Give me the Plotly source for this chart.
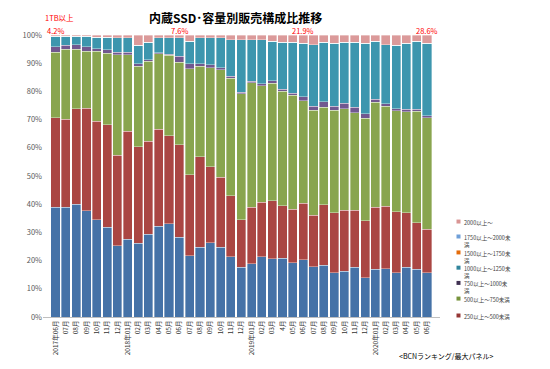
import plotly.graph_objects as go

months = ["2017年06月","2017年07月","2017年08月","2017年09月","2017年10月","2017年11月","2017年12月",
          "2018年01月","2018年02月","2018年03月","2018年04月","2018年05月","2018年06月","2018年07月",
          "2018年08月","2018年09月","2018年10月","2018年11月","2018年12月",
          "2019年01月","2019年02月","2019年03月","2019年04月","2019年05月","2019年06月","2019年07月",
          "2019年08月","2019年09月","2019年10月","2019年11月","2019年12月",
          "2020年01月","2020年02月","2020年03月","2020年04月","2020年05月","2020年06月"]
tick_labels = ["2017年06月","07月","08月","09月","10月","11月","12月",
               "2018年01月","02月","03月","04月","05月","06月","07月","08月","09月","10月","11月","12月",
               "2019年01月","02月","03月","4月","05月","06月","07月","08月","09月","10月","11月","12月",
               "2020年01月","02月","03月","04月","05月","06月"]

under_250 = [38.9,39.0,39.9,37.7,34.4,31.9,25.3,27.6,26.1,29.4,32.1,33.1,28.3,21.8,24.8,26.3,24.8,21.3,17.6,
             18.8,21.3,20.7,20.9,19.2,20.3,17.8,18.3,15.7,16.3,17.6,14.0,16.9,17.2,15.7,17.7,16.9,15.7]
s250_500 = [31.7,31.1,33.9,36.3,35.0,36.2,32.0,38.2,34.3,32.9,34.4,31.1,32.7,28.6,32.0,27.0,24.7,21.7,16.9,
            20.1,19.4,20.5,18.6,19.0,20.1,18.2,21.5,21.3,21.6,20.3,20.1,22.1,22.1,21.7,19.3,16.6,15.5]
s500_750 = [23.3,24.8,21.1,20.2,24.8,25.4,35.7,27.2,28.6,28.4,26.8,28.6,29.4,37.6,32.2,35.0,38.1,41.7,44.7,
            44.1,41.3,41.7,40.5,40.4,36.2,37.3,34.5,36.3,36.0,34.6,36.4,37.1,35.4,35.8,35.7,39.4,39.5]
s750_1000 = [1.9,1.4,1.7,1.6,1.0,1.3,0.8,0.8,0.8,0.6,0.4,0.3,2.0,1.8,0.8,1.1,0.8,0.7,0.5,
             0.6,0.7,0.8,0.8,0.8,1.5,1.5,2.0,1.4,1.9,1.8,1.6,1.2,1.0,0.7,0.9,0.7,0.7]
s1000_1250 = [3.8,3.3,3.0,3.8,4.0,4.4,5.2,5.2,6.6,6.2,5.3,5.9,6.6,8.0,9.2,9.6,10.6,12.9,18.6,
              14.7,15.6,14.1,16.7,18.1,19.0,21.8,21.2,22.4,21.7,23.2,25.0,20.4,20.9,22.4,23.5,24.1,25.7]
s1500_1750 = [0.0]*37
s1750_2000 = [0.0]*37
s2000_over = [0.4,0.4,0.4,0.4,0.8,0.8,1.0,1.0,3.6,2.5,1.0,1.0,1.0,2.2,1.0,1.0,1.0,1.7,1.7,
              1.7,1.7,2.2,2.5,2.5,2.9,3.4,2.5,2.9,2.5,2.5,2.9,2.3,3.4,3.7,2.9,2.3,2.9]

callout_months = ["2017年06月","2018年06月","2019年06月","2020年06月"]
callout_texts = ["4.2%","7.6%","21.9%","28.6%"]

# (trace name, values, bar colour, legend label, legend swatch colour)
series = [
    ("250未満", under_250, "#4572a7", None, None),
    ("250以上～500未満", s250_500, "#aa4643", "250以上～500未満", "#953735"),
    ("500以上～750未満", s500_750, "#89a54e", "500以上～750未満", "#77933c"),
    ("750以上～1000未満", s750_1000, "#71588f", "750以上～1000未<br>満", "#403152"),
    ("1000以上～1250未満", s1000_1250, "#3d96ae", "1000以上～1250未<br>満", "#31859c"),
    ("1500以上～1750未満", s1500_1750, "#db843d", "1500以上～1750未<br>満", "#e46c0a"),
    ("1750以上～2000未満", s1750_2000, "#6f9fd8", "1750以上～2000未<br>満", "#6f9fd8"),
    ("2000以上～", s2000_over, "#db9a9a", "2000以上～", "#d99594"),
]

# Page has an 8px body margin; figure is sized/offset to fit the 550x369 window.
W, H = 534, 353
PX0, PX1, PY0, PY1 = 43, 440, 34.5, 317.5   # plot area in window pixels
def px(x):
    return (x - PX0) / (PX1 - PX0)
def py(y):
    return (PY1 - y) / (PY1 - PY0)

fig = go.Figure()
for name, vals, color, _, _ in series:
    fig.add_trace(go.Bar(x=months, y=vals, name=name, marker_color=color,
                         marker_line_color="rgba(255,255,255,0.6)", marker_line_width=0.6,
                         showlegend=False))

font_family = "Noto Sans CJK JP"
fig.update_layout(
    width=W, height=H,
    barmode="stack", barnorm="percent", bargap=0.12,
    margin=dict(l=PX0 - 8, r=W - (PX1 - 8), t=PY0 - 8, b=H - (PY1 - 8), autoexpand=False),
    paper_bgcolor="white", plot_bgcolor="white",
    font=dict(family=font_family, size=7, color="#404040"),
    showlegend=False,
)
fig.update_xaxes(tickvals=months, ticktext=tick_labels, tickangle=-90,
                 tickfont=dict(size=6.5, color="#333333"), showline=True, linecolor="#bfbfbf",
                 ticks="", showgrid=False, automargin=False)
fig.update_yaxes(range=[0, 100], tickvals=list(range(0, 101, 10)),
                 ticktext=[f"{v}%" for v in range(0, 101, 10)],
                 tickfont=dict(size=7.5, color="#595959"), showgrid=False, showline=False,
                 ticks="", zeroline=False, automargin=False)

fig.add_annotation(text="<b>内蔵SSD･容量別販売構成比推移</b>", xref="paper", yref="paper",
                   x=px(235), y=py(16.5), xanchor="center", yanchor="middle", showarrow=False,
                   font=dict(size=12, color="#000000", family=font_family))
fig.add_annotation(text="1TB以上", xref="x", yref="paper", x=months[0], y=py(17),
                   xanchor="center", yanchor="middle", xshift=4, showarrow=False,
                   font=dict(size=7.5, color="#ff0000", family=font_family))
for m, t in zip(callout_months, callout_texts):
    fig.add_annotation(text=t, xref="x", yref="paper", x=m, y=py(29.5),
                       xanchor="center", yanchor="middle", showarrow=False,
                       font=dict(size=7.5, color="#ff0000", family=font_family))
fig.add_annotation(text="<BCNランキング/最大パネル>", xref="paper", yref="paper",
                   x=px(446.5), y=py(357), xanchor="center", yanchor="middle", showarrow=False,
                   font=dict(size=7, color="#000000", family=font_family))

# Legend drawn as annotations (entry first-line y positions in window pixels)
legend_y = {"2000以上～": 221.7, "1750以上～2000未満": 236.7, "1500以上～1750未満": 252.7,
            "1000以上～1250未満": 268, "750以上～1000未満": 283.3, "500以上～750未満": 299,
            "250以上～500未満": 316}
for name, _, _, label, swatch in series:
    if label is None:
        continue
    y0 = legend_y[name]
    fig.add_shape(type="rect", xref="paper", yref="paper",
                  x0=px(456.5), x1=px(460.5), y0=py(y0 + 2), y1=py(y0 - 2),
                  fillcolor=swatch, line_width=0)
    fig.add_annotation(text=label, xref="paper", yref="paper",
                       x=px(462.5), y=py(y0 - 3.6), xanchor="left", yanchor="top",
                       align="left", showarrow=False, borderpad=0,
                       font=dict(size=5.5, color="#404040", family=font_family))

fig.write_html("out.html")
